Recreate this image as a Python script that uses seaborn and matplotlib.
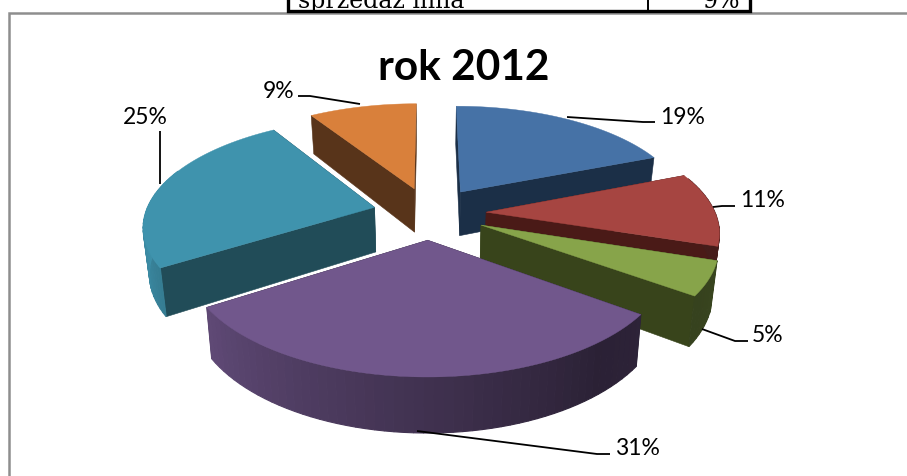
import numpy as np
import matplotlib
matplotlib.use("Agg")
import matplotlib.pyplot as plt
import seaborn as sns

# Share of sales in 2012, clockwise from twelve o'clock
shares = [19, 11, 5, 31, 25, 9]
share_labels = ["19%", "11%", "5%", "31%", "25%", "9%"]
chart_title = "rok 2012"
table_row = ["sprzedaż inna", "9%"]

top_colors = ["#4672A6", "#A64541", "#87A44A", "#71578C", "#3F93AD", "#D9803B"]
wall_colors = ["#1B2F47", "#4A1A17", "#38441B", "#2B2139", "#214C58", "#58341A"]

# Back-to-front painting order of the slices
paint_order = [0, 5, 4, 1, 2, 3]

# Projection of the tilted, exploded pie
CX, CY = 429.5, 214.0
SCALE_X, SCALE_Y = 229.0, 105.5
PERSPECTIVE = 0.158
EXPLODE = 0.248
THICKNESS = 45.0
BASE_SHRINK = 0.978

# Leader lines: label anchor and polyline
label_style = [
    ((660, 117), "left", [(567, 118), (643, 123), (655, 123)]),
    ((740, 201), "left", [(713, 208), (722, 207), (735, 207)]),
    ((752, 336), "left", [(702, 330), (735, 342), (748, 342)]),
    ((615, 449), "left", [(417, 432), (597, 455), (610, 455)]),
    ((168, 117), "right", [(160, 132), (160, 185)]),
    ((294, 91), "right", [(298, 97), (310, 97), (360, 105)]),
]

sns.set_theme(style="white")
plt.rcParams["font.family"] = ["Lato", "DejaVu Sans"]

fig = plt.figure(figsize=(9.07, 4.77), dpi=100, facecolor="white")
ax = fig.add_axes([0, 0, 1, 1])
ax.set_xlim(0, 907)
ax.set_ylim(477, 0)
ax.axis("off")


def project(u, w, base=False):
    den = 1 - PERSPECTIVE * w
    x = SCALE_X * u / den
    y = SCALE_Y * w / den
    if base:
        x *= BASE_SHRINK
        y += THICKNESS / den
    return CX + x, CY + y


def rim_light(theta):
    return np.interp(theta, [0, 108, 140, 240, 265, 360],
                     [0.42, 0.42, 0.38, 0.86, 0.97, 0.97])


def scaled(color, factor):
    r, g, b = matplotlib.colors.to_rgb(color)
    return (r * factor, g * factor, b * factor)


edges = np.concatenate([[0], np.cumsum(shares)]) * 3.6

for i in paint_order:
    t0, t1 = edges[i], edges[i + 1]
    mid = np.radians((t0 + t1) / 2)
    ou, ow = EXPLODE * np.sin(mid), -EXPLODE * np.cos(mid)
    thetas = np.linspace(t0, t1, int(max(t1 - t0, 4) / 2) + 1)
    u = ou + np.sin(np.radians(thetas))
    w = ow - np.cos(np.radians(thetas))

    # Radial cut faces
    for end in (0, -1):
        corners = [project(ou, ow), project(u[end], w[end]),
                   project(u[end], w[end], True), project(ou, ow, True)]
        ax.fill(*zip(*corners), color=wall_colors[i], lw=0.4)

    # Outer rim, shaded strip by strip; only the camera-facing part is painted
    for j in range(len(thetas) - 1):
        if not 70 <= thetas[j] <= 290:
            continue
        strip = [project(u[j], w[j]), project(u[j + 1], w[j + 1]),
                 project(u[j + 1], w[j + 1], True), project(u[j], w[j], True)]
        ax.fill(*zip(*strip), color=scaled(top_colors[i], rim_light(thetas[j])), lw=0.8)

    # Top surface
    tx, ty = project(np.r_[ou, u], np.r_[ow, w])
    ax.fill(tx, ty, color=top_colors[i], lw=0.3)

# Value labels with their leader lines
for text, ((lx, ly), ha, path) in zip(share_labels, label_style):
    ax.plot(*zip(*path), color="black", lw=1.3, solid_capstyle="butt", zorder=6)
    ax.text(lx, ly, text, ha=ha, va="center", fontsize=16.5, color="black", zorder=7)

ax.text(463.5, 68, chart_title, ha="center", va="center", fontsize=30.5,
        fontweight="bold", color="black", zorder=7)

# Chart frame
ax.plot([9, 9, 907], [477, 14, 14], color="#8E8E8E", lw=1.8, zorder=0.5,
        solid_joinstyle="miter")

# Last row of the table above the chart
ax.plot([288, 288, 750, 750], [0, 12, 12, 0], color="black", lw=2.4, zorder=8,
        solid_joinstyle="miter")
ax.plot([648, 648], [0, 12], color="black", lw=1.4, zorder=8)
ax.text(298, 8, table_row[0], ha="left", va="baseline", fontsize=17,
        family=["DejaVu Serif"], color="black", clip_on=True, zorder=8)
ax.text(740, 8, table_row[1], ha="right", va="baseline", fontsize=17,
        family=["DejaVu Serif"], color="black", clip_on=True, zorder=8)

fig.savefig("out.png", dpi=100, facecolor="white")
